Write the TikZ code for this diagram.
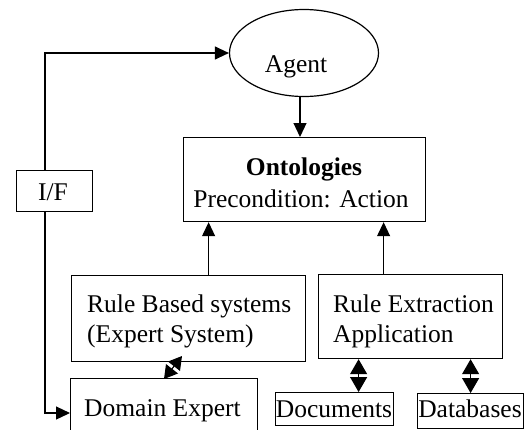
\documentclass[tikz,border=0pt]{standalone}
\usepackage{fontspec}
\setmainfont{Liberation Serif}
\usetikzlibrary{arrows.meta,shapes.geometric}
\begin{document}
\begin{tikzpicture}[x=1pt,y=-1pt,
  every node/.style={font=\fontsize{25.5}{30}\selectfont},
  boxnode/.style={draw,line width=1.2pt,inner sep=0pt,anchor=north west},
  txt/.style={inner sep=0pt,anchor=base west},
  ctxt/.style={inner sep=0pt,anchor=base},
  arr/.style={line width=1.2pt,-{Triangle[length=14pt,width=13pt]}},
  dia/.style={line width=1.2pt,{Triangle[length=15pt,width=17pt]}-{Triangle[length=15pt,width=17pt]}}]
\useasboundingbox (0,0) rectangle (526,429);
% nodes
\node[draw,ellipse,line width=1.2pt,minimum width=149pt,minimum height=87pt,inner sep=0pt] (agent) at (304,53) {};
\node[ctxt] (agentt) at (296,72) {Agent};
\node[boxnode,minimum width=76pt,minimum height=41pt] (if) at (16,170) {};
\node[ctxt] (ift) at (53,200) {I/F};
\node[boxnode,minimum width=242pt,minimum height=84pt] (onto) at (183,137) {};
\node[ctxt,font=\fontsize{25.5}{30}\selectfont\bfseries] (ot1) at (304,175) {Ontologies};
\node[ctxt] (ot2) at (301,207) {Precondition: Action};
\node[boxnode,minimum width=234pt,minimum height=86pt] (rbs) at (71,275) {};
\node[txt] (rt1) at (87,312) {Rule Based systems};
\node[txt] (rt2) at (87,342) {(Expert System)};
\node[boxnode,minimum width=184pt,minimum height=84pt] (rea) at (318,274) {};
\node[txt] (et1) at (333,312) {Rule Extraction};
\node[txt] (et2) at (333,342) {Application};
\node[boxnode,minimum width=187pt,minimum height=70pt] (de) at (70,378) {};
\node[txt] (dt) at (84,416) {Domain Expert};
\node[boxnode,minimum width=118pt,minimum height=33pt] (doc) at (275,392) {};
\node[ctxt] (doct) at (334,417) {Documents};
\node[boxnode,minimum width=106pt,minimum height=35pt] (db) at (417,393) {};
\node[ctxt] (dbt) at (470,417) {Databases};
% connectors
\coordinate (lc) at (45,52);
\coordinate (dein) at (70,413);
\draw[arr] (if.north -| lc) |- (agent.west);
\draw[arr] (if.south -| lc) |- (dein);
\draw[arr] ([xshift=-4pt]agent.south) -- ([xshift=-4pt]agent.south |- onto.north);
\draw[arr] ([xshift=20pt]rbs.north) -- ([xshift=20pt]rbs.north |- onto.south);
\draw[arr] ([xshift=-27pt]rea.north) -- ([xshift=-27pt]rea.north |- onto.south);
\draw[dia] ([xshift=24pt]doc.north) -- ([xshift=24pt]doc.north |- rea.south);
\draw[dia] (db.north) -- (db.north |- rea.south);
\coordinate (dea) at (164,379);
\coordinate (rba) at (182,356);
\draw[line width=1.2pt,{Triangle[length=13pt,width=15pt]}-{Triangle[length=13pt,width=15pt]}] (dea) -- (rba);
\end{tikzpicture}
\end{document}
